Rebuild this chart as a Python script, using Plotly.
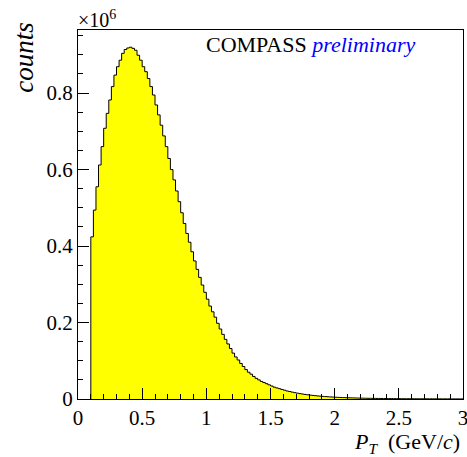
import plotly.graph_objects as go

# ---- data ----
bin_start = 0.10
bin_width = 0.02
# counts per bin, in units of 10^6
counts_1e6 = [
    0.424, 0.494, 0.555, 0.612, 0.660, 0.708, 0.747, 0.782, 0.817, 0.847,
    0.869, 0.886, 0.904, 0.914, 0.918, 0.920, 0.917, 0.912, 0.899, 0.886,
    0.869, 0.856, 0.838, 0.817, 0.795, 0.769, 0.743, 0.716, 0.688, 0.660,
    0.629, 0.600, 0.573, 0.544, 0.516, 0.487, 0.459, 0.433, 0.410, 0.385,
    0.361, 0.339, 0.318, 0.298, 0.279, 0.261, 0.243, 0.228, 0.214, 0.198,
    0.183, 0.169, 0.156, 0.144, 0.132, 0.120, 0.110, 0.102, 0.093, 0.085,
    0.077, 0.070, 0.065, 0.059, 0.054, 0.050, 0.046, 0.043, 0.040, 0.037,
    0.034, 0.031, 0.029, 0.027, 0.025, 0.023, 0.021, 0.0195, 0.018, 0.0166,
    0.0153, 0.0141, 0.013, 0.012, 0.011, 0.0102, 0.0094, 0.0087, 0.008, 0.0074,
    0.0068, 0.0063, 0.0058, 0.0054, 0.0050, 0.0046, 0.0043, 0.0040, 0.0037, 0.0034,
    0.0032, 0.0030, 0.0028, 0.0026, 0.0024, 0.0022, 0.0021, 0.0019, 0.0018, 0.0017,
    0.0016, 0.0015, 0.0014, 0.0013, 0.0012, 0.0011, 0.00105, 0.0010, 0.00095, 0.0009,
    0.00085, 0.0008, 0.00076, 0.00072, 0.00068, 0.00065, 0.00062, 0.00059, 0.00056, 0.00053,
    0.0005, 0.00048, 0.00046, 0.00044, 0.00042, 0.0004, 0.00038, 0.00036, 0.00035, 0.00033,
    0.00032, 0.00031, 0.0003, 0.00029, 0.00028,
]
x_tick_vals = [0, 0.5, 1, 1.5, 2, 2.5, 3]
x_tick_text = ["0", "0.5", "1", "1.5", "2", "2.5", "3"]
y_tick_vals = [0, 0.2, 0.4, 0.6, 0.8]
y_tick_text = ["0", "0.2", "0.4", "0.6", "0.8"]

n = len(counts_1e6)
edges = [round(bin_start + bin_width * i, 4) for i in range(n + 1)]

# step outline: start at zero on the left edge, end back at zero on the right edge
xs = [edges[0]] + edges
ys = [0] + counts_1e6 + [counts_1e6[-1]]

serif = "Liberation Serif, Times New Roman, serif"

fig = go.Figure()
fig.add_trace(go.Scatter(
    x=xs, y=ys, mode="lines", line=dict(shape="hv", color="black", width=1),
    fill="tozeroy", fillcolor="#ffff00", hoverinfo="skip", showlegend=False,
    cliponaxis=True,
))

fig.update_layout(
    width=467, height=457,
    margin=dict(l=78, r=4, t=30, b=58, autoexpand=False),
    paper_bgcolor="white", plot_bgcolor="white",
    font=dict(family=serif, size=21, color="black"),
    showlegend=False,
)
fig.update_xaxes(
    range=[0, 3], showgrid=False, zeroline=False, automargin=False,
    showline=True, linecolor="black", linewidth=1, mirror=True,
    ticks="inside", ticklen=11, tickwidth=1, tickcolor="black",
    tickvals=x_tick_vals, ticktext=x_tick_text, ticklabeloverflow="allow",
    minor=dict(ticks="inside", ticklen=5, dtick=0.1, tick0=0, tickcolor="black", showgrid=False),
    tickfont=dict(family=serif, size=21),
)
fig.update_yaxes(
    range=[0, 0.965], showgrid=False, zeroline=False, automargin=False,
    showline=True, linecolor="black", linewidth=1, mirror=True,
    ticks="inside", ticklen=11, tickwidth=1, tickcolor="black",
    tickvals=y_tick_vals, ticktext=y_tick_text, ticklabeloverflow="allow",
    minor=dict(ticks="inside", ticklen=5, dtick=0.05, tick0=0, tickcolor="black", showgrid=False),
    tickfont=dict(family=serif, size=21),
)

fig.add_annotation(
    xref="paper", yref="paper", x=0.328, y=0.96, xanchor="left", yanchor="middle",
    text="COMPASS <span style='color:#0000ff'><i>preliminary</i></span>",
    showarrow=False, font=dict(family=serif, size=22, color="black"),
)
fig.add_annotation(
    xref="paper", yref="paper", x=-0.005, y=1.03, xanchor="left", yanchor="middle",
    text="×10<sup>6</sup>", showarrow=False, font=dict(family=serif, size=20, color="black"),
)
fig.add_annotation(
    xref="paper", yref="paper", x=-0.14, y=0.925, xanchor="center", yanchor="middle",
    text="<i>counts</i>", textangle=-90, showarrow=False,
    font=dict(family=serif, size=27, color="black"),
)
fig.add_annotation(
    xref="paper", yref="paper", x=0.997, y=-0.12, xanchor="right", yanchor="middle",
    text="<i>P</i><sub><i>T</i></sub>  (GeV/<i>c</i>)", showarrow=False,
    font=dict(family=serif, size=22, color="black"),
)

fig.write_html("out.html", config={"displayModeBar": False},
               post_script="document.body.style.margin='0';")
